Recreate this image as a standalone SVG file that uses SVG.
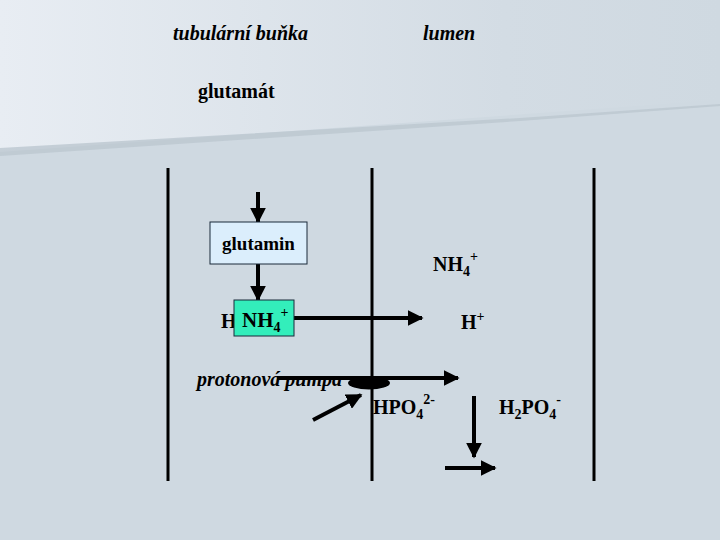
<svg xmlns="http://www.w3.org/2000/svg" width="720" height="540" viewBox="0 0 720 540">
<defs>
<linearGradient id="bgTop" x1="0" y1="0" x2="1" y2="0">
<stop offset="0" stop-color="#e8edf3"/>
<stop offset="0.7" stop-color="#d3dce4"/>
<stop offset="1" stop-color="#cfd9e1"/>
</linearGradient>
<marker id="ah" viewBox="0 0 10 10" refX="9" refY="5" markerWidth="4" markerHeight="4" orient="auto" markerUnits="strokeWidth">
<path d="M0,0 L10,5 L0,10 z" fill="#000"/>
</marker>
<style>
text{font-family:'Liberation Serif','DejaVu Serif',serif;font-weight:bold;fill:#000}
.it{font-style:italic}
.wall{stroke:#000;stroke-width:3;fill:none}
.arr{stroke:#000;stroke-width:4;fill:none;marker-end:url(#ah)}
.box{stroke:#1a2a3a;stroke-width:1}
</style>
</defs>
<rect width="720" height="540" fill="#cfd9e1"/>
<polygon points="0,0 720,0 720,100 0,152" fill="url(#bgTop)"/>
<polygon points="0,148 520,118 720,104 720,106 520,121 0,156" fill="#bcc7d0" opacity="0.8"/>

<g id="labels">
<text class="it" x="173" y="40" font-size="20">tubulární buňka</text>
<text class="it" x="423" y="40" font-size="20">lumen</text>
<text id="glutamat" x="198" y="98" font-size="20">glutamát</text>
</g>

<g id="walls">
<line class="wall" x1="168" y1="168" x2="168" y2="481"/>
<line class="wall" x1="372" y1="168" x2="372" y2="481"/>
<line class="wall" x1="594" y1="168" x2="594" y2="481"/>
</g>

<g id="pumpa-label">
<text class="it" x="197" y="386" font-size="20">protonová pumpa</text>
</g>

<g id="connectors">
<line class="arr" x1="258" y1="192" x2="258" y2="222"/>
<line class="arr" x1="258" y1="264" x2="258" y2="300"/>
<line class="arr" x1="294" y1="318" x2="422" y2="318"/>
<line class="arr" x1="277" y1="378" x2="458" y2="378"/>
<line class="arr" x1="313" y1="420" x2="361" y2="395"/>
<line class="arr" x1="474" y1="396" x2="474" y2="457"/>
<line class="arr" x1="445" y1="468" x2="495" y2="468"/>
</g>

<g id="pumpa">
<ellipse cx="369" cy="383" rx="21" ry="6.5" fill="#000"/>
</g>

<g id="glutamin">
<rect class="box" x="210" y="222" width="97" height="42" fill="#dbeefc"/>
<text x="258.5" y="250" font-size="19" text-anchor="middle">glutamin</text>
</g>

<g id="h-nh4">
<text x="221" y="328" font-size="20">H</text>
<rect class="box" x="234" y="300" width="60" height="36" fill="#33eebb"/>
<text x="242" y="327" font-size="21">NH<tspan font-size="14" dy="5">4</tspan><tspan font-size="14" dy="-15">+</tspan></text>
</g>

<g id="nh4-lumen">
<text x="433" y="271" font-size="20">NH<tspan font-size="14" dy="5">4</tspan><tspan font-size="14" dy="-15">+</tspan></text>
</g>

<g id="h-plus">
<text x="461" y="329" font-size="20">H<tspan font-size="14" dy="-8">+</tspan></text>
</g>

<g id="hpo4">
<text x="373" y="414" font-size="20">HPO<tspan font-size="14" dy="5">4</tspan><tspan font-size="14" dy="-15">2-</tspan></text>
</g>

<g id="h2po4">
<text x="499" y="414" font-size="20">H<tspan font-size="14" dy="5">2</tspan><tspan dy="-5">PO</tspan><tspan font-size="14" dy="5">4</tspan><tspan font-size="14" dy="-15">-</tspan></text>
</g>
</svg>
